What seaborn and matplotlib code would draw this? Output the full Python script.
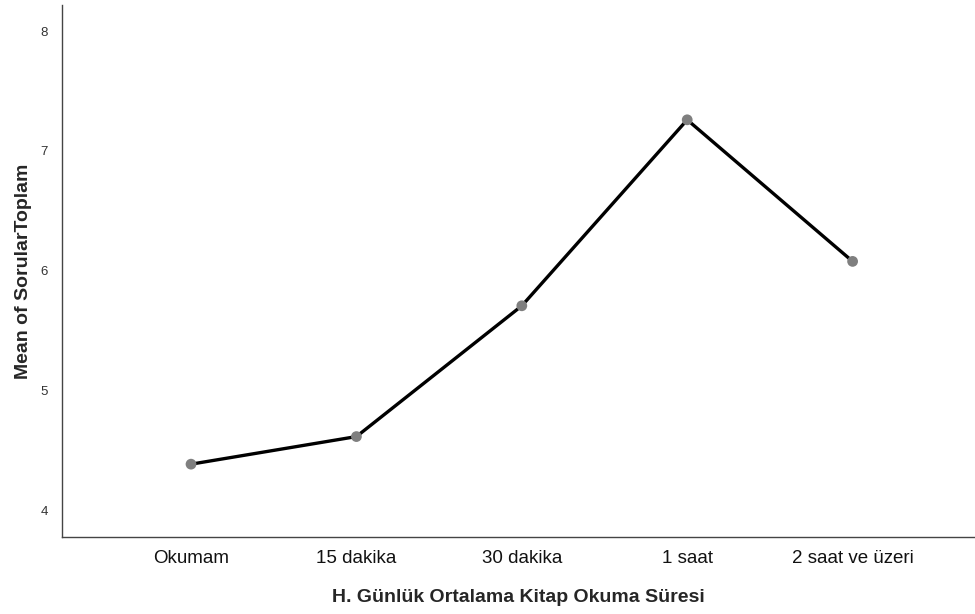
import matplotlib
matplotlib.use('Agg')
import matplotlib.pyplot as plt
import seaborn as sns
import pandas as pd

categories = ['Okumam', '15 dakika', '30 dakika', '1 saat', '2 saat ve üzeri']
means = [4.39, 4.62, 5.71, 7.26, 6.08]
y_ticks = [4, 5, 6, 7, 8]

df = pd.DataFrame({'cat': categories, 'mean': means})

sns.set_style('white')
plt.rcParams['font.family'] = ['Liberation Sans', 'DejaVu Sans']

fig = plt.figure(figsize=(9.75, 6.14), dpi=100)
ax = fig.add_axes([0.0636, 0.1254, 0.9364, 0.8665])

sns.lineplot(data=df, x='cat', y='mean', color='black', linewidth=2.4, sort=False, ax=ax)
sns.scatterplot(data=df, x='cat', y='mean', color='#7f7f7f', s=60, edgecolor='none', zorder=3, ax=ax)

ax.set_xlim(-0.78, 4.74)
ax.set_ylim(3.783, 8.217)
ax.set_yticks(y_ticks)
ax.set_yticklabels([str(t) for t in y_ticks], fontsize=9.5, color='#333333')
ax.tick_params(axis='x', length=0, pad=9, labelsize=13.5, labelcolor='#111111')
ax.tick_params(axis='y', length=0, pad=10)

ax.set_xlabel('H. Günlük Ortalama Kitap Okuma Süresi', fontsize=14, fontweight='bold', labelpad=16)
ax.set_ylabel('Mean of SorularToplam', fontsize=14, fontweight='bold')
ax.yaxis.set_label_coords(-0.033, 0.5)

sns.despine(ax=ax, top=True, right=True)
for s in ['left', 'bottom']:
    ax.spines[s].set_color('#444444')
    ax.spines[s].set_linewidth(1.0)

fig.savefig('out.png', dpi=100)
